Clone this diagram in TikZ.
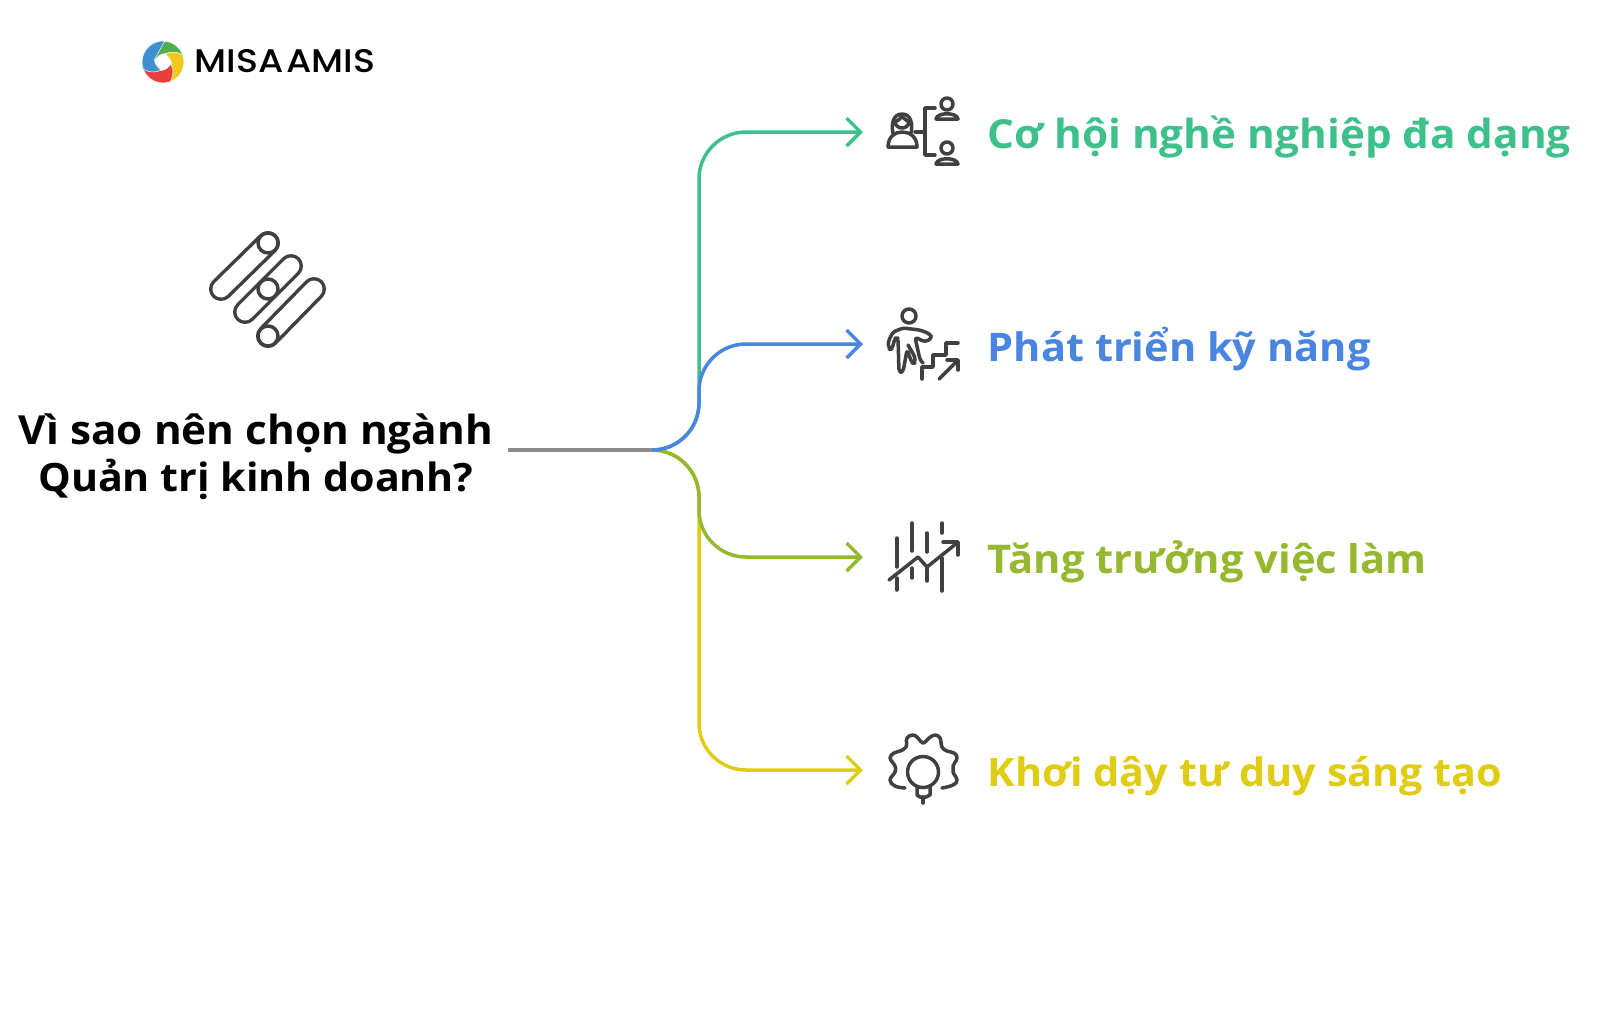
\documentclass[tikz,border=0pt]{standalone}
\usepackage{fontspec}
\usepackage{xcolor}
\usetikzlibrary{arrows.meta}
\setmainfont{Open Sans}
\newfontfamily\itemfont[FakeStretch=1.055]{Open Sans}
\newfontfamily\logofont[FakeStretch=1.11]{Poppins Medium}
\definecolor{CareerGreen}{HTML}{3DC08A}
\definecolor{SkillBlue}{HTML}{4A86E0}
\definecolor{GrowthOlive}{HTML}{95B82E}
\definecolor{IdeaYellow}{HTML}{E0CC14}
\definecolor{IconGray}{HTML}{404040}
\definecolor{TrunkGray}{HTML}{8A8A8A}
\definecolor{LogoGreen}{HTML}{4CAF50}
\definecolor{LogoYellow}{HTML}{F2C81E}
\definecolor{LogoRed}{HTML}{E8403F}
\definecolor{LogoBlue}{HTML}{3F8FD2}
\newcommand{\itemsize}[1]{\itemfont\bfseries\fontsize{#1}{13}\selectfont}
\tikzset{
  branch/.style={line width=0.035cm, rounded corners=0.47cm, -{Straight Barb[length=0.14cm,width=0.28cm,line width=0.035cm]}},
  itemlabel/.style={anchor=west, inner sep=0pt},
  icon/.style={draw=IconGray, line width=0.035cm, line cap=round, line join=round},
  capsule/.style={IconGray, line width=0.035cm, double=white, double distance=0.17cm, line cap=round},
}
\begin{document}
\begin{tikzpicture}[x=0.01cm,y=-0.01cm]
    \useasboundingbox (0,0) rectangle (1600,1008);
    % logo
    \begin{scope}[shift={(163,62)},x=0.01cm,y=0.01cm]
        \foreach \col/\ang in {LogoGreen/0,LogoYellow/-90,LogoRed/-180,LogoBlue/-270}
            \fill[\col,draw=white,line width=0.005cm,rotate=\ang] (110:21) arc (110:-5:21) .. controls (10:15) and (30:9) .. (70:9) .. controls (100:9) and (140:8) .. (165:8) .. controls (150:13) and (125:18) .. (110:21) -- cycle;
    \end{scope}
    \node[anchor=west,inner sep=0pt,font=\logofont\fontsize{9.3}{11}\selectfont] (logo) at (194,61) {MISA\kern0.08em AMIS};
    % capsules
    \draw[capsule] (221,289) -- (268,243);
    \draw[capsule] (245,312) -- (291,266);
    \draw[capsule] (268,336) -- (314,289);
    \foreach \px/\py in {268/243,268/289,268/336}
        \draw[icon,fill=white] (\px,\py) circle (10);
    % title
    \node[align=center,inner sep=0pt] (title) at (256,457) {\itemsize{11.4}Vì sao nên chọn ngành\\[1.4pt]\itemsize{11.1}Quản trị kinh doanh?};
    % connectors
    \coordinate (trunk) at (508,450);
    \coordinate (hub) at (653,450);
    \coordinate (spine) at (699,450);
    \coordinate (tipcareer) at (863,132);
    \coordinate (tipskill) at (863,344);
    \coordinate (tipgrowth) at (863,557);
    \coordinate (tipidea) at (863,770);
    \draw[line width=0.035cm,color=TrunkGray] (trunk) -- (hub);
    \draw[branch,CareerGreen] (hub) -- (spine) |- (tipcareer);
    \draw[branch,IdeaYellow] (hub) -- (spine) |- (tipidea);
    \draw[branch,GrowthOlive] (hub) -- (spine) |- (tipgrowth);
    \draw[branch,SkillBlue] (hub) -- (spine) |- (tipskill);
    % labels
    \node[itemlabel,CareerGreen] (career) at (987,137) {\itemsize{11.4}Cơ hội nghề nghiệp đa dạng};
    \node[itemlabel,SkillBlue] (skill) at (987,349) {\itemsize{11.2}Phát triển kỹ năng};
    \node[itemlabel,GrowthOlive] (growth) at (987,562) {\itemsize{11.25}Tăng trưởng việc làm};
    \node[itemlabel,IdeaYellow] (idea) at (987,776) {\itemsize{11.15}Khơi dậy tư duy sáng tạo};
    % people icon
    \draw[icon] (947,104) circle (6);
    \draw[icon] (947,148) circle (6);
    \draw[icon] (936,119) .. controls (937,112) and (957,112) .. (958,119) -- cycle;
    \draw[icon] (936,164) .. controls (937,157) and (957,157) .. (958,164) -- cycle;
    \draw[icon] (935,108) -- (925,108) -- (925,155) -- (935,155);
    \draw[icon] (915,132) -- (925,132);
    \draw[icon] (888,147) .. controls (888,136) and (896,132) .. (902,132) .. controls (909,132) and (917,136) .. (917,147) -- cycle;
    \draw[icon] (893,133) .. controls (891,124) and (893,114) .. (902,114) .. controls (911,114) and (913,124) .. (911,133);
    \draw[icon] (895,122) .. controls (899,120) and (901,118) .. (902,116) .. controls (903,118) and (906,120) .. (909,122) .. controls (908,130) and (896,130) .. (895,122);
    % stairs icon
    \draw[icon] (909,316) circle (7);
    \draw[icon,rounded corners=0.03cm] (923,363) -- (920,360) -- (915,337) -- (925,342) -- (932,338) -- (930,334) -- (920,330) -- (903,328) -- (893,332) -- (888,342) -- (889,349) -- (892,349) -- (895,338) -- (898,338) -- (899,372) -- (903,372) -- (907,350) -- (912,363) -- (915,363) -- (915,357) -- (908,345);
    \draw[icon] (922,379) -- (922,367) -- (933,367) -- (933,355) -- (946,355) -- (946,343) -- (958,343);
    \draw[icon] (939,379) -- (957,361);
    \draw[icon] (947,360) -- (958,360) -- (958,370);
    % chart icon
    \foreach \bx/\bya/\byb in {897/538/567,897/578/590,912/523/551,912/568/578,927/533/552,927/568/581,942/523/533,942/558/591}
        \draw[icon] (\bx,\bya) -- (\bx,\byb);
    \draw[icon] (889,580) -- (918,557) -- (927,567) -- (957,543);
    \draw[icon] (943,542) -- (958,542) -- (958,555);
    % gear icon
    \draw[icon] plot[smooth,tension=0.7] coordinates {(905,788) (895,786) (890,780) (895,772) (895,766) (890,758) (894,753) (900,751) (906,747) (907,738) (913,735) (918,738) (923,743) (929,738) (935,735) (940,738) (942,747) (947,751) (954,753) (957,758) (953,766) (953,772) (957,780) (953,785) (942,788)};
    \draw[icon] (923,772) circle (15.5);
    \draw[icon] (917,787) -- (917,795) -- (920,797) -- (926,797) -- (930,795) -- (930,787);
    \draw[icon] (923,797) -- (923,803);
\end{tikzpicture}
\end{document}
